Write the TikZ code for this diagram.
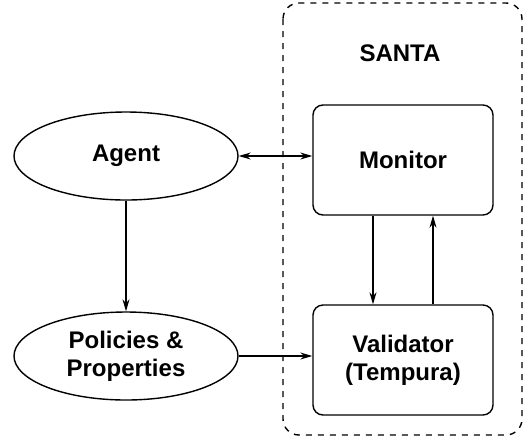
\documentclass[tikz,border=0pt]{standalone}
\usepackage{fontspec}
\setmainfont{Liberation Sans}
\usetikzlibrary{shapes.geometric, arrows.meta}

\begin{document}
\begin{tikzpicture}[x={(0.5pt,0)}, y={(0,-0.5pt)},
    every node/.style={font=\fontsize{12}{14}\selectfont\bfseries, align=center},
    blob/.style={draw, ellipse, line width=0.7pt, minimum width=112pt, minimum height=44pt, inner sep=0pt},
    box/.style={draw, rounded corners=5pt, line width=0.7pt, minimum width=90pt, minimum height=55pt, inner sep=0pt},
    link/.style={line width=0.6pt, -{Stealth[length=6pt, width=3.5pt]}}]

    \useasboundingbox (0, 0) rectangle (529, 440);

    \def\shift{15pt};

    \draw[dashed, line width=0.7pt, rounded corners=8pt] (283, 3) rectangle (522, 435);
    \node (santa) at (400, 53) {SANTA};

    \node[blob] (agent)    at (126, 156) {Agent};
    \node[blob] (policies) at (126, 356) {Policies \&\\Properties};

    \node[box] (monitor)   at (403, 160) {Monitor};
    \node[box] (validator) at (403, 360) {Validator\\(Tempura)};

    \draw[link, {Stealth[length=6pt, width=3.5pt]}-{Stealth[length=6pt, width=3.5pt]}] (agent.east) -- (agent.east -| monitor.west);
    \draw[link] (agent) -- (policies);
    \draw[link] (policies.east) -- (policies.east -| validator.west);
    \draw[link] ([xshift=-\shift]monitor.south) -- ([xshift=-\shift]validator.north);
    \draw[link] ([xshift=\shift]validator.north) -- ([xshift=\shift]monitor.south);

\end{tikzpicture}
\end{document}
